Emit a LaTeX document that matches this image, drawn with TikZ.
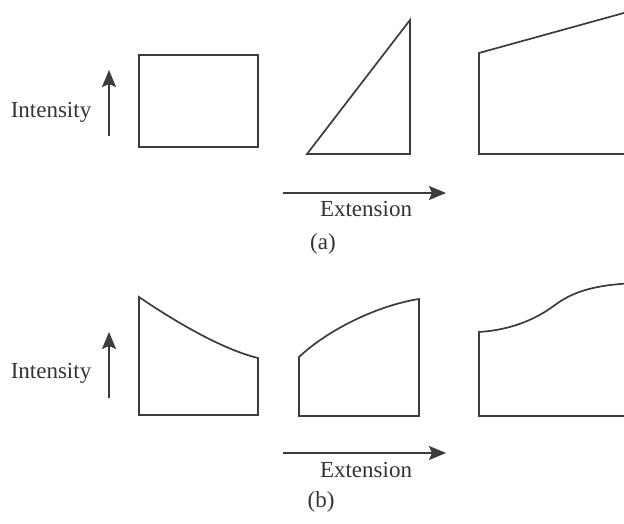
\documentclass[tikz,border=0pt]{standalone}
\usepackage{fontspec}
\setmainfont{Liberation Serif}
\usetikzlibrary{arrows.meta,calc}
\usepackage{tkz-euclide}
\definecolor{LineClr}{rgb}{0.23,0.23,0.25}
\definecolor{TextClr}{rgb}{0.2,0.2,0.2}

\begin{document}
\begin{tikzpicture}[x=1pt,y=-1pt,
  lbl/.style={text=TextClr,font=\fontsize{23}{25}\selectfont,inner sep=0pt},
  axis/.style={line width=1.7pt,color=LineClr,-{Stealth[length=17pt,width=14pt,inset=3pt]}},
  outline/.style={line width=1.7pt,color=LineClr,line join=miter}]
\clip (0,0) rectangle (624,524);
\tkzSetUpLine[line width=1.7pt,color=LineClr]

%% (a)
\tkzDefPoints{139/55/A,258/55/B,258/147/C,139/147/D}
\tkzDefPoints{307/154/E,410/154/F,410/20/G}
\tkzDefPoints{479/154/H,479/53/I,660/3/J,660/154/K}
\tkzDrawPolygon[outline](A,B,C,D)
\tkzDrawPolygon[outline](E,F,G)
\tkzDrawPolygon[outline](H,I,J,K)

\coordinate (ia0) at (109,136);
\coordinate (ia1) at (109,70);
\coordinate (ea0) at (283,193);
\coordinate (ea1) at (446,193);
\draw[axis] (ia0) -- (ia1);
\draw[axis] (ea0) -- (ea1);
\node[lbl] (IntA) at (51,112) {Intensity};
\node[lbl] (ExtA) at (366,209) {Extension};
\node[lbl] (CapA) at (323,244) {(a)};

%% (b)
\tkzDefPoints{139/415/L,139/297/M,258/358/N,258/415/P}
\tkzDefPoints{299/416/Q,299/357/R,419/299/S,419/416/T}
\tkzDefPoints{479/416/U,479/332/V,555/305/W,640/283/X,640/416/Y}
\draw[outline] (L) -- (M) .. controls (180,325) and (225,350) .. (N) -- (P) -- cycle;
\draw[outline] (Q) -- (R) .. controls (330,328) and (380,305) .. (S) -- (T) -- cycle;
\draw[outline] (U) -- (V) .. controls (510,330) and (535,320) .. (W)
  .. controls (575,290) and (600,284) .. (X) -- (Y) -- cycle;

\coordinate (ib0) at (109,398);
\coordinate (ib1) at (109,332);
\coordinate (eb0) at (283,453);
\coordinate (eb1) at (446,453);
\draw[axis] (ib0) -- (ib1);
\draw[axis] (eb0) -- (eb1);
\node[lbl] (IntB) at (51,373) {Intensity};
\node[lbl] (ExtB) at (366,470) {Extension};
\node[lbl] (CapB) at (321,502) {(b)};

\end{tikzpicture}
\end{document}
